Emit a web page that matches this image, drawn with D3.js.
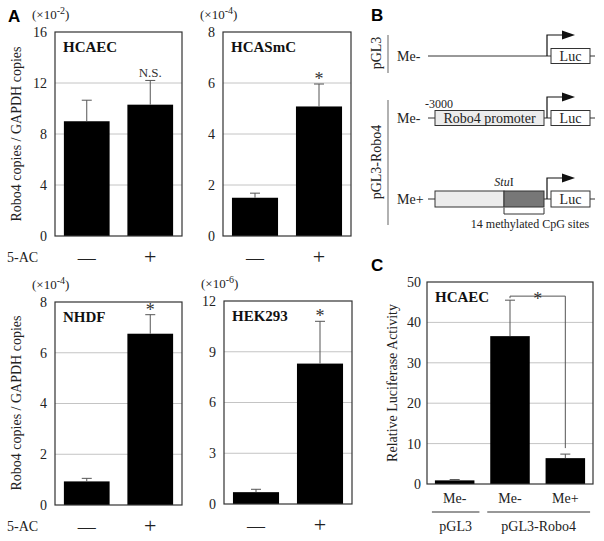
<!DOCTYPE html>
<html><head><meta charset="utf-8">
<script src="https://cdn.jsdelivr.net/npm/d3@7"></script>
<style>body{margin:0;background:#fff}svg{display:block}</style>
</head><body><svg id="c" width="604" height="541"></svg>
<script>
// ---- data ----
const conditions = ["—", "+"];
const hcaecValues = [9.0, 10.3];
const hcaecErrors = [1.65, 1.9];
const hcasmcValues = [1.5, 5.08];
const hcasmcErrors = [0.18, 0.88];
const nhdfValues = [0.93, 6.75];
const nhdfErrors = [0.12, 0.75];
const hek293Values = [0.7, 8.3];
const hek293Errors = [0.17, 2.5];
const hcaecTicks = [0, 4, 8, 12, 16];
const hcasmcTicks = [0, 2, 4, 6, 8];
const nhdfTicks = [0, 2, 4, 6, 8];
const hek293Ticks = [0, 3, 6, 9, 12];
const lucCategories = ["Me-", "Me-", "Me+"];
const lucKeys = ["a", "b", "c"];
const lucValues = [0.9, 36.6, 6.4];
const lucErrors = [0.2, 8.9, 1.0];
const lucTicks = [0, 10, 20, 30, 40, 50];
const lucGroups = ["pGL3", "pGL3-Robo4"];

const svg = d3.select("#c");
const SERIF = "'Liberation Serif','Times New Roman',serif";
const SANS = "'Liberation Sans',Arial,sans-serif";

function barPanel(o) {
  const g = svg.append("g");
  const keys = o.keys || o.cats;
  const x = d3.scaleBand().domain(keys).range([o.x0, o.x1]).paddingInner(o.pi).paddingOuter(o.po);
  const y = d3.scaleLinear().domain([0, o.ticks[o.ticks.length - 1]]).range([o.y1, o.y0]);
  g.selectAll(".grid").data(o.ticks.slice(1, -1)).join("line")
    .attr("x1", o.x0).attr("x2", o.x1).attr("y1", d => y(d)).attr("y2", d => y(d))
    .attr("stroke", "#c4c4c4").attr("stroke-width", 1);
  const ax = g.append("g").attr("transform", `translate(${o.x0},0)`)
    .call(d3.axisLeft(y).tickValues(o.ticks).tickSize(0).tickPadding(o.tp || 8));
  ax.select(".domain").remove();
  ax.selectAll("text").attr("font-family", SERIF).attr("font-size", 14).attr("fill", "#222");
  g.selectAll(".bar").data(o.values).join("rect")
    .attr("x", (d, i) => x(keys[i])).attr("width", x.bandwidth())
    .attr("y", d => y(d)).attr("height", d => y(0) - y(d)).attr("fill", "#000");
  o.values.forEach((v, i) => {
    const cx = x(keys[i]) + x.bandwidth() / 2;
    const top = y(v + o.errors[i]);
    g.append("line").attr("x1", cx).attr("x2", cx).attr("y1", y(v)).attr("y2", top).attr("stroke", "#555").attr("stroke-width", 1);
    g.append("line").attr("x1", cx - 5).attr("x2", cx + 5).attr("y1", top).attr("y2", top).attr("stroke", "#555").attr("stroke-width", 1);
    if (o.marks && o.marks[i]) {
      const star = o.marks[i] === "*";
      g.append("text").attr("x", cx).attr("y", star ? top + 1 : top - 3).attr("text-anchor", "middle")
        .attr("font-family", SERIF).attr("font-size", star ? 18 : 13)
        .attr("fill", "#333").text(o.marks[i]);
    }
  });
  g.append("rect").attr("x", o.x0).attr("y", o.y0).attr("width", o.x1 - o.x0).attr("height", o.y1 - o.y0)
    .attr("fill", "none").attr("stroke", "#333").attr("stroke-width", 1.2);
  g.append("text").attr("x", o.x0 + 8).attr("y", o.y0 + 20).attr("font-family", SERIF)
    .attr("font-weight", "bold").attr("font-size", 15).attr("fill", "#111").text(o.title);
  if (o.exp) {
    const t = g.append("text").attr("x", o.x0 - 23).attr("y", o.y0 - 13).attr("font-family", SERIF)
      .attr("font-size", 13).attr("fill", "#222");
    t.append("tspan").text("(×10");
    t.append("tspan").attr("font-size", 10).attr("dy", -5).text(o.exp);
    t.append("tspan").attr("dy", 5).text(")");
  }
  if (o.catLabels) {
    o.cats.forEach((c, i) => {
      g.append("text").attr("x", x(keys[i]) + x.bandwidth() / 2).attr("y", o.y1 + 28)
        .attr("text-anchor", "middle").attr("font-family", SERIF).attr("font-size", c === "+" ? 22 : 18)
        .attr("fill", "#222").text(c);
    });
  }
  return { x, y, g };
}

function ytitle(text, cx, cy) {
  svg.append("text").attr("transform", `translate(${cx},${cy}) rotate(-90)`).attr("text-anchor", "middle")
    .attr("font-family", SERIF).attr("font-size", 14).attr("fill", "#222").text(text);
}

// Panel A
svg.append("text").attr("x", 8).attr("y", 22).attr("font-family", SANS).attr("font-weight", "bold").attr("font-size", 17).text("A");
barPanel({ x0: 55, x1: 182, y0: 32, y1: 236, pi: 0.28, po: 0.14, cats: conditions, values: hcaecValues, errors: hcaecErrors, ticks: hcaecTicks, title: "HCAEC", exp: "-2", marks: ["", "N.S."], catLabels: true });
barPanel({ x0: 223, x1: 351, y0: 32, y1: 236, pi: 0.28, po: 0.14, cats: conditions, values: hcasmcValues, errors: hcasmcErrors, ticks: hcasmcTicks, title: "HCASmC", exp: "-4", marks: ["", "*"], catLabels: true });
barPanel({ x0: 55, x1: 182, y0: 302, y1: 505, pi: 0.28, po: 0.14, cats: conditions, values: nhdfValues, errors: nhdfErrors, ticks: nhdfTicks, title: "NHDF", exp: "-4", marks: ["", "*"], catLabels: true });
barPanel({ x0: 224, x1: 352, y0: 301, y1: 504, pi: 0.28, po: 0.14, cats: conditions, values: hek293Values, errors: hek293Errors, ticks: hek293Ticks, title: "HEK293", exp: "-6", marks: ["", "*"], catLabels: true });
ytitle("Robo4 copies / GAPDH copies", 21, 134);
ytitle("Robo4 copies / GAPDH copies", 21, 403);
[262, 531].forEach(yy => svg.append("text").attr("x", 7).attr("y", yy).attr("font-family", SERIF).attr("font-size", 14).attr("fill", "#222").text("5-AC"));

// Panel B (diagram)
svg.append("text").attr("x", 371).attr("y", 21).attr("font-family", SANS).attr("font-weight", "bold").attr("font-size", 17).text("B");
const bGroups = [{ label: "pGL3", cy: 53, y0: 35, y1: 73 }, { label: "pGL3-Robo4", cy: 162, y0: 100, y1: 225 }];
bGroups.forEach(d => {
  svg.append("text").attr("transform", `translate(${381},${d.cy}) rotate(-90)`).attr("text-anchor", "middle")
    .attr("font-family", SERIF).attr("font-size", 14).attr("fill", "#222").text(d.label);
  svg.append("line").attr("x1", 388).attr("x2", 388).attr("y1", d.y0).attr("y2", d.y1).attr("stroke", "#888").attr("stroke-width", 1.3);
});
const bRows = [{ label: "Me-", cy: 56, type: 0 }, { label: "Me-", cy: 118, type: 1 }, { label: "Me+", cy: 199, type: 2 }];
const LN = "#333";
bRows.forEach(r => {
  svg.append("text").attr("x", 397).attr("y", r.cy + 5).attr("font-family", SERIF).attr("font-size", 14).attr("fill", "#222").text(r.label);
  const h = r.type === 2 ? 16 : 15;
  const top = r.cy - h / 2;
  if (r.type === 0) {
    svg.append("line").attr("x1", 428).attr("x2", 551).attr("y1", r.cy).attr("y2", r.cy).attr("stroke", LN);
  } else {
    svg.append("line").attr("x1", 428).attr("x2", 435).attr("y1", r.cy).attr("y2", r.cy).attr("stroke", LN);
    svg.append("line").attr("x1", 544).attr("x2", 551).attr("y1", r.cy).attr("y2", r.cy).attr("stroke", LN);
    if (r.type === 1) {
      svg.append("rect").attr("x", 435).attr("y", top).attr("width", 109).attr("height", h).attr("fill", "#ececec").attr("stroke", LN);
      svg.append("text").attr("x", 489.5).attr("y", r.cy + 5).attr("text-anchor", "middle").attr("font-family", SERIF).attr("font-size", 14).attr("fill", "#222").text("Robo4 promoter");
      svg.append("text").attr("x", 425).attr("y", r.cy - 10).attr("font-family", SERIF).attr("font-size", 12).attr("fill", "#222").text("-3000");
    } else {
      svg.append("rect").attr("x", 435).attr("y", top).attr("width", 69).attr("height", h).attr("fill", "#ececec").attr("stroke", LN);
      svg.append("rect").attr("x", 504).attr("y", top).attr("width", 40).attr("height", h).attr("fill", "#777").attr("stroke", LN);
      svg.append("path").attr("d", `M504,${top + h + 1}V${top + h + 7}H544V${top + h + 1}`).attr("fill", "none").attr("stroke", LN);
      const st = svg.append("text").attr("x", 504).attr("y", r.cy - 13).attr("text-anchor", "middle").attr("font-family", SERIF).attr("font-size", 12).attr("fill", "#222");
      st.append("tspan").attr("font-style", "italic").text("Stu");
      st.append("tspan").text("I");
      svg.append("text").attr("x", 530).attr("y", r.cy + 29).attr("text-anchor", "middle").attr("font-family", SERIF).attr("font-size", 12).attr("fill", "#222").text("14 methylated CpG sites");
    }
  }
  svg.append("rect").attr("x", 551).attr("y", top).attr("width", 39).attr("height", h).attr("fill", "#fff").attr("stroke", LN);
  svg.append("text").attr("x", 570.5).attr("y", r.cy + 5).attr("text-anchor", "middle").attr("font-family", SERIF).attr("font-size", 14).attr("fill", "#222").text("Luc");
  svg.append("line").attr("x1", 590).attr("x2", 595).attr("y1", r.cy).attr("y2", r.cy).attr("stroke", LN);
  const ay = r.cy - 21;
  svg.append("path").attr("d", `M547,${r.cy}V${ay}H563`).attr("fill", "none").attr("stroke", "#111").attr("stroke-width", 1.2);
  svg.append("path").attr("d", `M562,${ay - 4.5}L575,${ay}L562,${ay + 4.5}Z`).attr("fill", "#111");
});

// Panel C
svg.append("text").attr("x", 371).attr("y", 271).attr("font-family", SANS).attr("font-weight", "bold").attr("font-size", 17).text("C");
const pc = barPanel({ x0: 427, x1: 593, y0: 282, y1: 484, pi: 0.2857, po: 0.143, cats: lucCategories, keys: lucKeys, values: lucValues, errors: lucErrors, ticks: lucTicks, title: "HCAEC", tp: 6 });
ytitle("Relative Luciferase Activity", 397, 383);
lucCategories.forEach((c, i) => {
  svg.append("text").attr("x", pc.x(lucKeys[i]) + pc.x.bandwidth() / 2).attr("y", 503).attr("text-anchor", "middle")
    .attr("font-family", SERIF).attr("font-size", 14).attr("fill", "#222").text(c);
});
const grpSpan = [[lucKeys[0], lucKeys[0]], [lucKeys[1], lucKeys[2]]];
lucGroups.forEach((gname, i) => {
  const xa = pc.x(grpSpan[i][0]) - 3, xb = pc.x(grpSpan[i][1]) + pc.x.bandwidth() + 5;
  svg.append("line").attr("x1", xa).attr("x2", xb).attr("y1", 512).attr("y2", 512).attr("stroke", "#333").attr("stroke-width", 1.2);
  svg.append("text").attr("x", (xa + xb) / 2).attr("y", 531).attr("text-anchor", "middle")
    .attr("font-family", SERIF).attr("font-size", 14).attr("fill", "#222").text(gname);
});
{
  const cx1 = pc.x(lucKeys[1]) + pc.x.bandwidth() / 2, cx2 = pc.x(lucKeys[2]) + pc.x.bandwidth() / 2;
  const yb = pc.y(46.5);
  svg.append("path").attr("d", `M${cx1},${pc.y(lucValues[1] + lucErrors[1]) - 2}V${yb}H${cx2}V${pc.y(lucValues[2] + lucErrors[2]) - 6}`)
    .attr("fill", "none").attr("stroke", "#555").attr("stroke-width", 1);
  svg.append("text").attr("x", (cx1 + cx2) / 2).attr("y", yb + 9).attr("text-anchor", "middle")
    .attr("font-family", SERIF).attr("font-size", 18).attr("fill", "#333").text("*");
}
</script></body></html>
